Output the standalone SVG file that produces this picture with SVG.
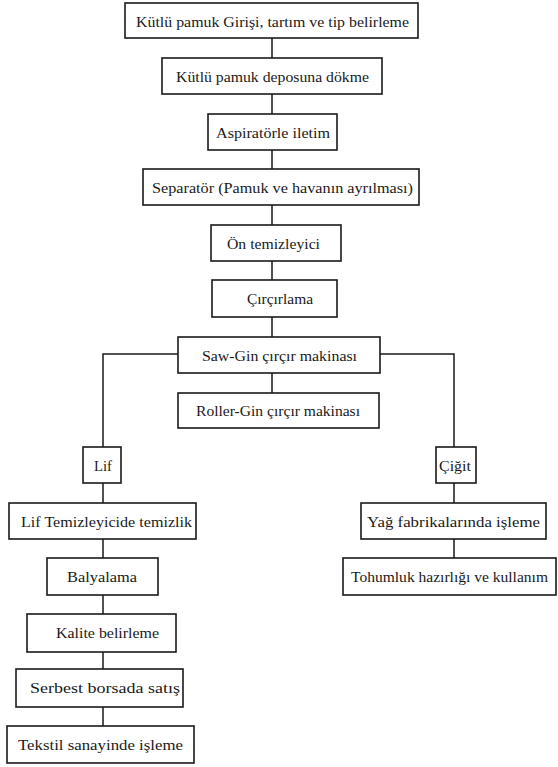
<svg xmlns="http://www.w3.org/2000/svg" width="558" height="767" viewBox="0 0 558 767">
<style>
.box{fill:#fff;stroke:#1a1a1a;stroke-width:1.6}
.lbl{font-family:"Liberation Serif","Times New Roman",serif;font-size:15.5px;fill:#1a1a1a;text-anchor:middle}
.con{stroke:#1a1a1a;stroke-width:1.5;fill:none}
</style>
<rect width="558" height="767" fill="#fff"/>
<g id="connectors">
<path class="con" d="M272 38V58M272 94V114M272 150V169M272 205V225M272 261V280M272 317V337M272 373V393"/>
<path class="con" d="M178 354H103V447M103 483V503M103 539V558M103 595V614M103 652V669M103 707V726"/>
<path class="con" d="M380 354H454V447M454 483V503M454 539V558"/>
</g>
<g id="n1"><rect class="box" x="125" y="3" width="293" height="35"/><text class="lbl" x="272.5" y="26.5" textLength="273" lengthAdjust="spacingAndGlyphs">Kütlü pamuk Girişi, tartım ve tip belirleme</text></g>
<g id="n2"><rect class="box" x="162" y="58" width="220" height="36"/><text class="lbl" x="272.5" y="81.5" textLength="193" lengthAdjust="spacingAndGlyphs">Kütlü pamuk deposuna dökme</text></g>
<g id="n3"><rect class="box" x="208" y="114" width="129" height="36"/><text class="lbl" x="273" y="137.5" textLength="114" lengthAdjust="spacingAndGlyphs">Aspiratörle iletim</text></g>
<g id="n4"><rect class="box" x="143" y="169" width="276" height="36"/><text class="lbl" x="282.5" y="192.5" textLength="261" lengthAdjust="spacingAndGlyphs">Separatör (Pamuk ve havanın ayrılması)</text></g>
<g id="n5"><rect class="box" x="211" y="225" width="130" height="36"/><text class="lbl" x="273.5" y="248.5" textLength="93" lengthAdjust="spacingAndGlyphs">Ön temizleyici</text></g>
<g id="n6"><rect class="box" x="212" y="280" width="125" height="37"/><text class="lbl" x="280" y="304" textLength="66" lengthAdjust="spacingAndGlyphs">Çırçırlama</text></g>
<g id="n7"><rect class="box" x="178" y="337" width="202" height="36"/><text class="lbl" x="279.5" y="360.5" textLength="155" lengthAdjust="spacingAndGlyphs">Saw-Gin çırçır makinası</text></g>
<g id="n8"><rect class="box" x="178" y="393" width="201" height="35"/><text class="lbl" x="278" y="416" textLength="164" lengthAdjust="spacingAndGlyphs">Roller-Gin çırçır makinası</text></g>
<g id="n9"><rect class="box" x="83" y="447" width="38" height="36"/><text class="lbl" x="103" y="470.5" textLength="18" lengthAdjust="spacingAndGlyphs">Lif</text></g>
<g id="n10"><rect class="box" x="9" y="503" width="187" height="36"/><text class="lbl" x="106.5" y="526.5" textLength="171" lengthAdjust="spacingAndGlyphs">Lif Temizleyicide temizlik</text></g>
<g id="n11"><rect class="box" x="47" y="558" width="111" height="37"/><text class="lbl" x="102" y="582" textLength="70" lengthAdjust="spacingAndGlyphs">Balyalama</text></g>
<g id="n12"><rect class="box" x="27" y="614" width="149" height="38"/><text class="lbl" x="107.5" y="638" textLength="103" lengthAdjust="spacingAndGlyphs">Kalite belirleme</text></g>
<g id="n13"><rect class="box" x="16" y="669" width="167" height="38"/><text class="lbl" x="105" y="693" textLength="150" lengthAdjust="spacingAndGlyphs">Serbest borsada satış</text></g>
<g id="n14"><rect class="box" x="7" y="726" width="187" height="37"/><text class="lbl" x="100.5" y="750" textLength="165" lengthAdjust="spacingAndGlyphs">Tekstil sanayinde işleme</text></g>
<g id="n15"><rect class="box" x="436" y="447" width="40" height="36"/><text class="lbl" x="455" y="470.5" textLength="32" lengthAdjust="spacingAndGlyphs">Çiğit</text></g>
<g id="n16"><rect class="box" x="361" y="503" width="185" height="36"/><text class="lbl" x="453.5" y="526.5" textLength="173" lengthAdjust="spacingAndGlyphs">Yağ fabrikalarında işleme</text></g>
<g id="n17"><rect class="box" x="343" y="558" width="213" height="37"/><text class="lbl" x="449.5" y="582" textLength="197" lengthAdjust="spacingAndGlyphs">Tohumluk hazırlığı ve kullanım</text></g>
</svg>
